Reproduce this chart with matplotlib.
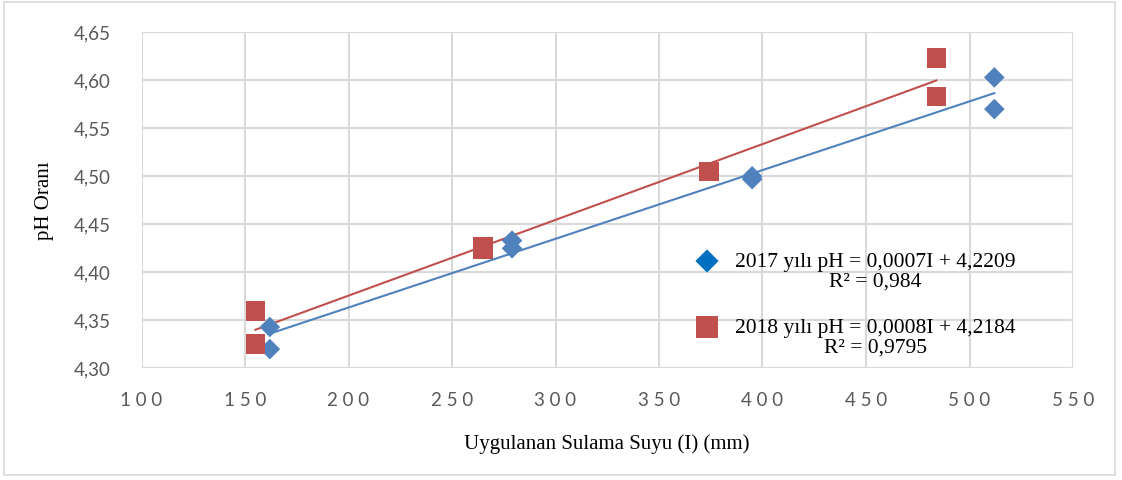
import numpy as np
import matplotlib.pyplot as plt
from matplotlib.patches import Rectangle

# irrigation water (mm) and pH readings
x_2017 = [162, 162, 279, 279, 395, 395, 512, 512]
ph_2017 = [4.343, 4.320, 4.433, 4.425, 4.500, 4.497, 4.603, 4.570]
x_2018 = [155, 155, 265, 265, 374, 484, 484]
ph_2018 = [4.360, 4.325, 4.424, 4.427, 4.505, 4.623, 4.583]

label_2017 = "2017 yılı pH = 0,0007I + 4,2209\nR² = 0,984"
label_2018 = "2018 yılı pH = 0,0008I + 4,2184\nR² = 0,9795"

xticks = [100, 150, 200, 250, 300, 350, 400, 450, 500, 550]
yticks = [4.30, 4.35, 4.40, 4.45, 4.50, 4.55, 4.60, 4.65]

blue = "#4F81BD"
blue_leg = "#0070C0"
red = "#C0504D"
grid_c = "#D9D9D9"

W, H = 1122, 480
fig = plt.figure(figsize=(W / 100, H / 100), dpi=100)
fig.patches.append(Rectangle((0.004, 0.01), 0.99, 0.985, transform=fig.transFigure,
                             fill=False, edgecolor=grid_c, linewidth=1.2))
x0, x1, y0, y1 = 141.5, 1073, 32.3, 368.3
ax = fig.add_axes([x0 / W, 1 - y1 / H, (x1 - x0) / W, (y1 - y0) / H])

ax.scatter(x_2017, ph_2017, marker="D", s=110, color=blue, zorder=3, edgecolors="none")
ax.scatter(x_2018, ph_2018, marker="s", s=200, color=red, zorder=3, edgecolors="none")

# linear trend lines
for xs, ys, c in [(x_2017, ph_2017, blue), (x_2018, ph_2018, red)]:
    k, b = np.polyfit(xs, ys, 1)
    xx = np.array([min(xs), max(xs)])
    ax.plot(xx, k * xx + b, color=c, linewidth=1.5, zorder=2)

ax.set_xlim(100, 550)
ax.set_ylim(4.30, 4.65)
ax.set_xticks(xticks)
ax.set_yticks(yticks)
ax.set_xticklabels([" ".join(str(t)) for t in xticks], fontsize=13.5, color="#595959", family="Lato")
ax.set_yticklabels([f"{t:.2f}".replace(".", ",") for t in yticks], fontsize=13.5, color="#595959",
                   family="Lato")
ax.tick_params(axis="y", length=0, pad=22)
ax.tick_params(axis="x", length=0, pad=17)
ax.grid(True, color=grid_c, linewidth=1.5)
ax.set_axisbelow(True)
for s in ax.spines.values():
    s.set_visible(False)

ax.set_xlabel("Uygulanan Sulama Suyu (I) (mm)", family="Liberation Serif", fontsize=15, labelpad=18)
ax.set_ylabel("pH Oranı", family="Liberation Serif", fontsize=15, labelpad=14)

# legend drawn by hand: marker next to first line, text block centred
def to_ax(px, py):
    return (px - x0) / (x1 - x0), (y1 - py) / (y1 - y0)

legend_items = [(label_2017, "D", 140, blue_leg, 261), (label_2018, "s", 240, red, 327)]
for lab, mk, sz, c, py in legend_items:
    mx, my = to_ax(707, py)
    ax.scatter([mx], [my], marker=mk, s=sz, color=c, transform=ax.transAxes,
               clip_on=False, zorder=4, edgecolors="none")
    tx, ty = to_ax(875, py + 11)
    ax.text(tx, ty, lab, transform=ax.transAxes, ha="center", va="center",
            multialignment="center", family="Liberation Serif", fontsize=15.5,
            linespacing=1.05, zorder=4)

fig.savefig("out.png", dpi=100)
